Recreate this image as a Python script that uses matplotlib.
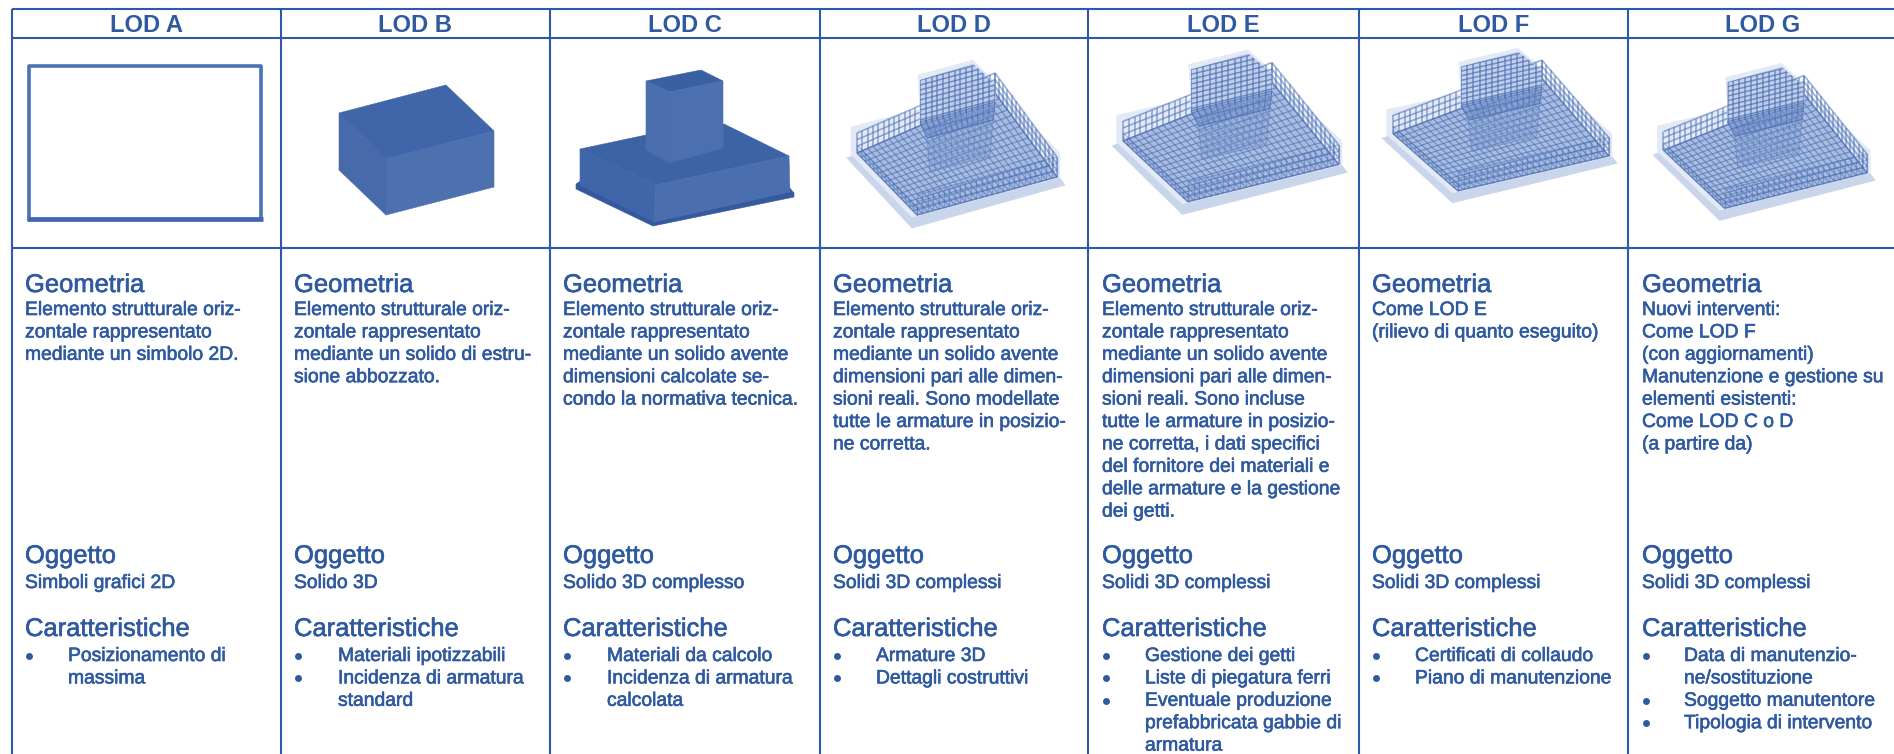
import numpy as np
import matplotlib
matplotlib.use("Agg")
from matplotlib import pyplot as plt
from matplotlib import patheffects as pe
from matplotlib.patches import Polygon
from matplotlib.collections import LineCollection

plt.rcParams['font.family'] = ['Liberation Sans', 'DejaVu Sans']

W, H = 1894, 754
BLUE = '#2f58a6'
TEXT = '#2f5aa0'

lods = ["LOD A", "LOD B", "LOD C", "LOD D", "LOD E", "LOD F", "LOD G"]

col_lines = [12, 281, 550, 820, 1088, 1359, 1628, 1898]
text_x = [25, 294, 563, 833, 1102, 1372, 1642]
bullet_x = [68, 338, 607, 876, 1145, 1415, 1684]

geometria = [
    ["Elemento strutturale oriz-", "zontale rappresentato", "mediante un simbolo 2D."],
    ["Elemento strutturale oriz-", "zontale rappresentato", "mediante un solido di estru-", "sione abbozzato."],
    ["Elemento strutturale oriz-", "zontale rappresentato", "mediante un solido avente",
     "dimensioni calcolate se-", "condo la normativa tecnica."],
    ["Elemento strutturale oriz-", "zontale rappresentato", "mediante un solido avente",
     "dimensioni pari alle dimen-", "sioni reali. Sono modellate", "tutte le armature in posizio-",
     "ne corretta."],
    ["Elemento strutturale oriz-", "zontale rappresentato", "mediante un solido avente",
     "dimensioni pari alle dimen-", "sioni reali. Sono incluse", "tutte le armature in posizio-",
     "ne corretta, i dati specifici", "del fornitore dei materiali e",
     "delle armature e la gestione", "dei getti."],
    ["Come LOD E", "(rilievo di quanto eseguito)"],
    ["Nuovi interventi:", "Come LOD F", "(con aggiornamenti)", "Manutenzione e gestione su",
     "elementi esistenti:", "Come LOD C o D", "(a partire da)"],
]

oggetto = ["Simboli grafici 2D", "Solido 3D", "Solido 3D complesso", "Solidi 3D complessi",
           "Solidi 3D complessi", "Solidi 3D complessi", "Solidi 3D complessi"]

caratteristiche = [
    [["Posizionamento di", "massima"]],
    [["Materiali ipotizzabili"], ["Incidenza di armatura", "standard"]],
    [["Materiali da calcolo"], ["Incidenza di armatura", "calcolata"]],
    [["Armature 3D"], ["Dettagli costruttivi"]],
    [["Gestione dei getti"], ["Liste di piegatura ferri"],
     ["Eventuale produzione", "prefabbricata gabbie di", "armatura"]],
    [["Certificati di collaudo"], ["Piano di manutenzione"]],
    [["Data di manutenzio-", "ne/sostituzione"], ["Soggetto manutentore"], ["Tipologia di intervento"]],
]

# pixel outlines of the drawings
box_top = [(339, 113), (446, 85), (494, 131), (386, 159)]
box_left = [(339, 113), (386, 159), (386, 215), (339, 170)]
box_right = [(386, 159), (494, 131), (494, 187), (386, 215)]

foot_plate = [(576, 184), (582, 180), (654, 215), (788, 186), (794, 193), (794, 197), (653, 226), (576, 189)]
foot_left = [(580, 149), (656, 185), (654, 222), (580, 185)]
foot_right = [(656, 185), (789, 156), (790, 192), (654, 222)]
foot_top = [(580, 149), (646, 135), (724, 124), (789, 156), (656, 185)]
pier_top = [(646, 81), (701, 70), (723, 81), (669, 92)]
pier_left = [(646, 81), (669, 92), (669, 163), (646, 150)]
pier_right = [(669, 92), (723, 81), (723, 148), (669, 163)]

# cage drawing, in the pixels of the LOD D copy relative to its corner
cage_halo = [(21, 77), (90, 59), (88, 25), (143, 10), (165, 32), (165, 37), (230, 103), (230, 132),
             (235, 135), (82, 178), (17, 108), (21, 106)]
cage_plate = [(17, 108), (82, 178), (235, 135), (230, 128), (82, 168), (22, 106)]
cage_floor = [(27, 103), (87, 165), (227, 127), (165, 43)]
cage_pier = [(90, 30), (143, 14), (165, 34), (165, 55), (90, 75)]
cage_pier_grid = [(90, 30), (90, 75), (165, 55), (165, 10)]
cage_pier_band = [(90, 72), (97, 88), (163, 70), (165, 52)]
cage_pier_low = [(97, 88), (100, 122), (160, 106), (163, 70)]
# (left, top, width scale, height scale) of each copy
cage_d = (830, 50, 1.0, 1.0)
cage_e = (1094, 40, 1.078, 0.98)
cage_f = (1364, 39, 1.078, 0.92)
cage_g = (1636, 54, 1.018, 0.935)


def poly(ax, pts, color, **kw):
    p = Polygon(pts, closed=True, facecolor=color, edgecolor=color, lw=0.4, **kw)
    ax.add_patch(p)
    return p


def mesh(q, n_u, n_v):
    # lines between the opposite edges of a quad
    p0, p1, p2, p3 = [np.array(p, dtype=float) for p in q]
    segs = []
    for t in np.linspace(0, 1, n_u):
        segs.append([p0 + (p1 - p0) * t, p3 + (p2 - p3) * t])
    for t in np.linspace(0, 1, n_v):
        segs.append([p0 + (p3 - p0) * t, p1 + (p2 - p1) * t])
    return segs


def draw_cage(ax, place):
    left, top, sx, sy = place
    def T(pts):
        return [(left + x * sx, top + y * sy) for x, y in pts]
    col = '#4a6fb5'
    def bars(q, nu, nv, alpha, z=3, lw=0.9):
        lc = LineCollection(mesh(q, nu, nv), colors=col, linewidths=lw, alpha=alpha, zorder=z)
        ax.add_collection(lc)
        return lc

    poly(ax, T(cage_halo), '#e3e9f5', zorder=2)
    poly(ax, T(cage_plate), '#c9d5ea', zorder=2)
    a, b, c, d = T(cage_floor)
    poly(ax, [a, b, c, d], '#a9bcdf', zorder=2)
    bars([a, b, c, d], 16, 27, 0.6)

    # upright walls round the floor
    wall = 20 * sy
    up = lambda p, h: (p[0], p[1] - h)
    bars([a, up(a, wall), up(d, wall), d], 4, 27, 0.55, lw=1.2)
    bars([d, up(d, wall), up(c, wall), c], 4, 16, 0.55, lw=1.2)
    bars([b, up(b, wall), up(c, wall), c], 4, 27, 0.45, lw=1.0)
    bars([a, up(a, wall * 0.4), up(b, wall * 0.4), b], 3, 16, 0.4)

    # cage of the pier
    shape = poly(ax, T(cage_pier), '#c3d0e9', zorder=3, alpha=0.9)
    poly(ax, T(cage_pier_band), '#6c8ac6', zorder=3, alpha=0.55)
    poly(ax, T(cage_pier_low), '#7f9ace', zorder=3, alpha=0.3)
    bars(T(cage_pier_grid), 10, 14, 0.7, z=4, lw=1.1).set_clip_path(shape)
    bars(T(cage_pier_band), 3, 14, 0.6, z=4)
    bars(T(cage_pier_low), 7, 12, 0.3, z=4)


fig = plt.figure(figsize=(W / 100, H / 100), dpi=100)
ax = fig.add_axes([0, 0, 1, 1])
ax.set_xlim(0, W)
ax.set_ylim(H, 0)
ax.axis('off')

# grid
for x in col_lines:
    ax.plot([x, x], [9, H], color=BLUE, lw=1.5, solid_capstyle='butt', zorder=5)
for y in [9, 38, 248]:
    ax.plot([12, W], [y, y], color=BLUE, lw=1.5, solid_capstyle='butt', zorder=5)

# LOD A symbol
ax.plot([28.5, 28.5, 261, 261], [219, 66, 66, 219], color='#4a72b4', lw=2.6, zorder=3)
ax.plot([27, 262.5], [219, 219], color='#3f68ae', lw=3.4, solid_capstyle='butt', zorder=3)

# LOD B solid
poly(ax, box_top, '#4065a8', zorder=3)
poly(ax, box_left, '#466aaa', zorder=3)
poly(ax, box_right, '#4d70ae', zorder=3)

# LOD C solid
poly(ax, foot_plate, '#34599f', zorder=3)
poly(ax, foot_top, '#3d63a7', zorder=3)
poly(ax, foot_left, '#4065a9', zorder=3)
poly(ax, foot_right, '#4a6eae', zorder=3)
poly(ax, pier_top, '#3a60a4', zorder=4)
poly(ax, pier_left, '#4a6eae', zorder=4)
poly(ax, pier_right, '#4c70af', zorder=4)

for place in [cage_d, cage_e, cage_f, cage_g]:
    draw_cage(ax, place)

# texts, with a hairline stroke for the heavier look of the scan
heavy = [pe.withStroke(linewidth=0.45, foreground=TEXT)]
for i, name in enumerate(lods):
    ax.text((col_lines[i] + col_lines[i + 1]) / 2, 32, name, fontsize=17.1, fontweight='bold',
            color=TEXT, ha='center', va='baseline', zorder=6)
    tx = text_x[i]
    ax.text(tx, 292, "Geometria", fontsize=18.4, color=TEXT, va='baseline', zorder=6, path_effects=heavy)
    for k, line in enumerate(geometria[i]):
        ax.text(tx, 315 + k * 22.4, line, fontsize=13.9, color=TEXT, va='baseline', zorder=6, path_effects=heavy)
    ax.text(tx, 563, "Oggetto", fontsize=18.4, color=TEXT, va='baseline', zorder=6, path_effects=heavy)
    ax.text(tx, 588, oggetto[i], fontsize=13.9, color=TEXT, va='baseline', zorder=6, path_effects=heavy)
    ax.text(tx, 636, "Caratteristiche", fontsize=18.4, color=TEXT, va='baseline', zorder=6, path_effects=heavy)
    y = 661
    for item in caratteristiche[i]:
        ax.plot([tx + 4], [y - 5], marker='o', ms=5, color=TEXT, mew=0, zorder=6)
        for line in item:
            ax.text(bullet_x[i], y, line, fontsize=13.9, color=TEXT, va='baseline', zorder=6, path_effects=heavy)
            y += 22.4

fig.savefig("out.png", dpi=100)
